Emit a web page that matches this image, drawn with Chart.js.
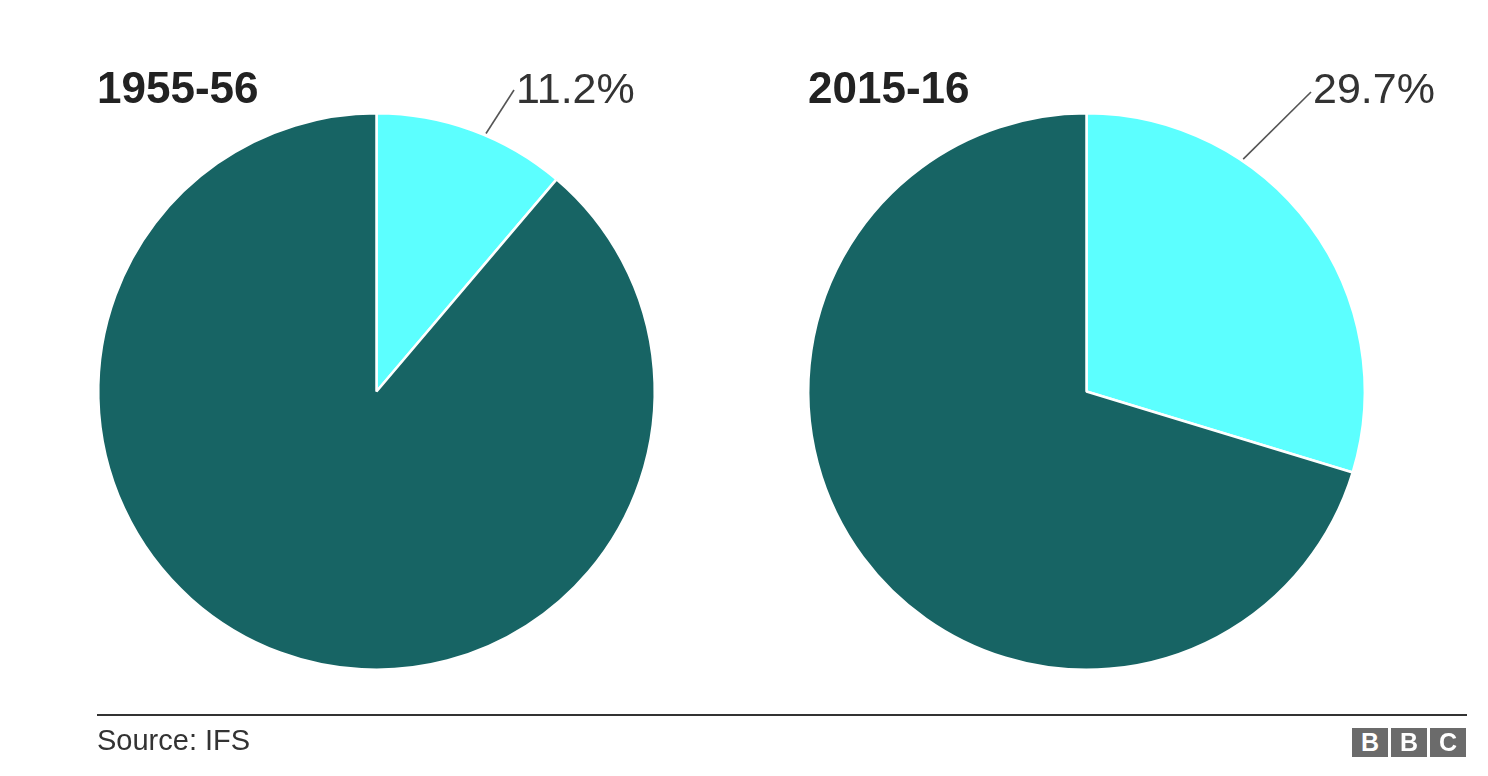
<!DOCTYPE html>
<html>
<head>
<meta charset="utf-8">
<script src="https://cdn.jsdelivr.net/npm/chart.js@4"></script>
<style>
  html, body { margin: 0; padding: 0; background: #fff; }
  body { width: 1488px; height: 776px; position: relative; overflow: hidden; font-family: "Liberation Sans", Arial, sans-serif; }
  .box { position: absolute; top: 0; width: 744px; height: 776px; }
  .title { position: absolute; top: 66px; font-size: 44px; line-height: 44px; font-weight: bold; color: #222; }
  .rule { position: absolute; left: 97px; top: 714px; width: 1370px; height: 2px; background: #333; }
  .source { position: absolute; left: 97px; top: 726px; font-size: 29px; line-height: 29px; color: #333; }
  .bbc { position: absolute; top: 728px; width: 36px; height: 29px; background: #6b6b6b; color: #fff;
         font-weight: bold; font-size: 25px; line-height: 29px; text-align: center; }
</style>
</head>
<body>
<div class="box" style="left:0"><canvas id="pie1"></canvas></div>
<div class="box" style="left:744px"><canvas id="pie2"></canvas></div>
<div class="title" style="left:97px">1955-56</div>
<div class="title" style="left:808px">2015-16</div>
<div class="rule"></div>
<div class="source">Source: IFS</div>
<div class="bbc" style="left:1352px">B</div>
<div class="bbc" style="left:1391px">B</div>
<div class="bbc" style="left:1430px">C</div>
<script>
// share of the total, first slice is the highlighted one
const categories = ['Share', 'Rest'];
const values1955 = [11.2, 88.8];
const values2015 = [29.7, 70.3];
const labels1955 = ['11.2%'];
const labels2015 = ['29.7%'];

const colours = ['#5cffff', '#176464'];

// leader line + label for the first slice
const leaderLabel = {
  id: 'leaderLabel',
  afterDraw(chart, args, opts) {
    const arc = chart.getDatasetMeta(0).data[0];
    const ctx = chart.ctx;
    const a = (opts.angle - 90) * Math.PI / 180;
    const r = arc.outerRadius + 2;
    const sx = arc.x + Math.cos(a) * r;
    const sy = arc.y + Math.sin(a) * r;
    const ex = arc.x + opts.end[0];
    const ey = arc.y + opts.end[1];
    ctx.save();
    ctx.strokeStyle = '#555';
    ctx.lineWidth = 1.6;
    ctx.beginPath();
    ctx.moveTo(sx, sy);
    ctx.lineTo(ex, ey);
    ctx.stroke();
    ctx.fillStyle = '#333';
    ctx.font = '43px "Liberation Sans", Arial, sans-serif';
    ctx.textBaseline = 'alphabetic';
    ctx.fillText(opts.text, ex + 2, arc.y - 288.5);
    ctx.restore();
  }
};

function makePie(id, values, label, pad, angle, end) {
  return new Chart(document.getElementById(id), {
    type: 'pie',
    data: {
      labels: categories,
      datasets: [{
        data: values,
        backgroundColor: colours,
        borderColor: '#fff',
        borderWidth: 2.5,
        hoverOffset: 0
      }]
    },
    options: {
      responsive: true,
      maintainAspectRatio: false,
      animation: false,
      layout: { padding: pad },
      plugins: {
        legend: { display: false },
        tooltip: { enabled: false },
        leaderLabel: { text: label, angle: angle, end: end }
      }
    },
    plugins: [leaderLabel]
  });
}

makePie('pie1', values1955, labels1955[0], { left: 97, right: 88, top: 112, bottom: 105 }, 23, [137.5, -301.5]);
makePie('pie2', values2015, labels2015[0], { left: 63, right: 122, top: 112, bottom: 105 }, 34, [224.5, -299.5]);
</script>
</body>
</html>
